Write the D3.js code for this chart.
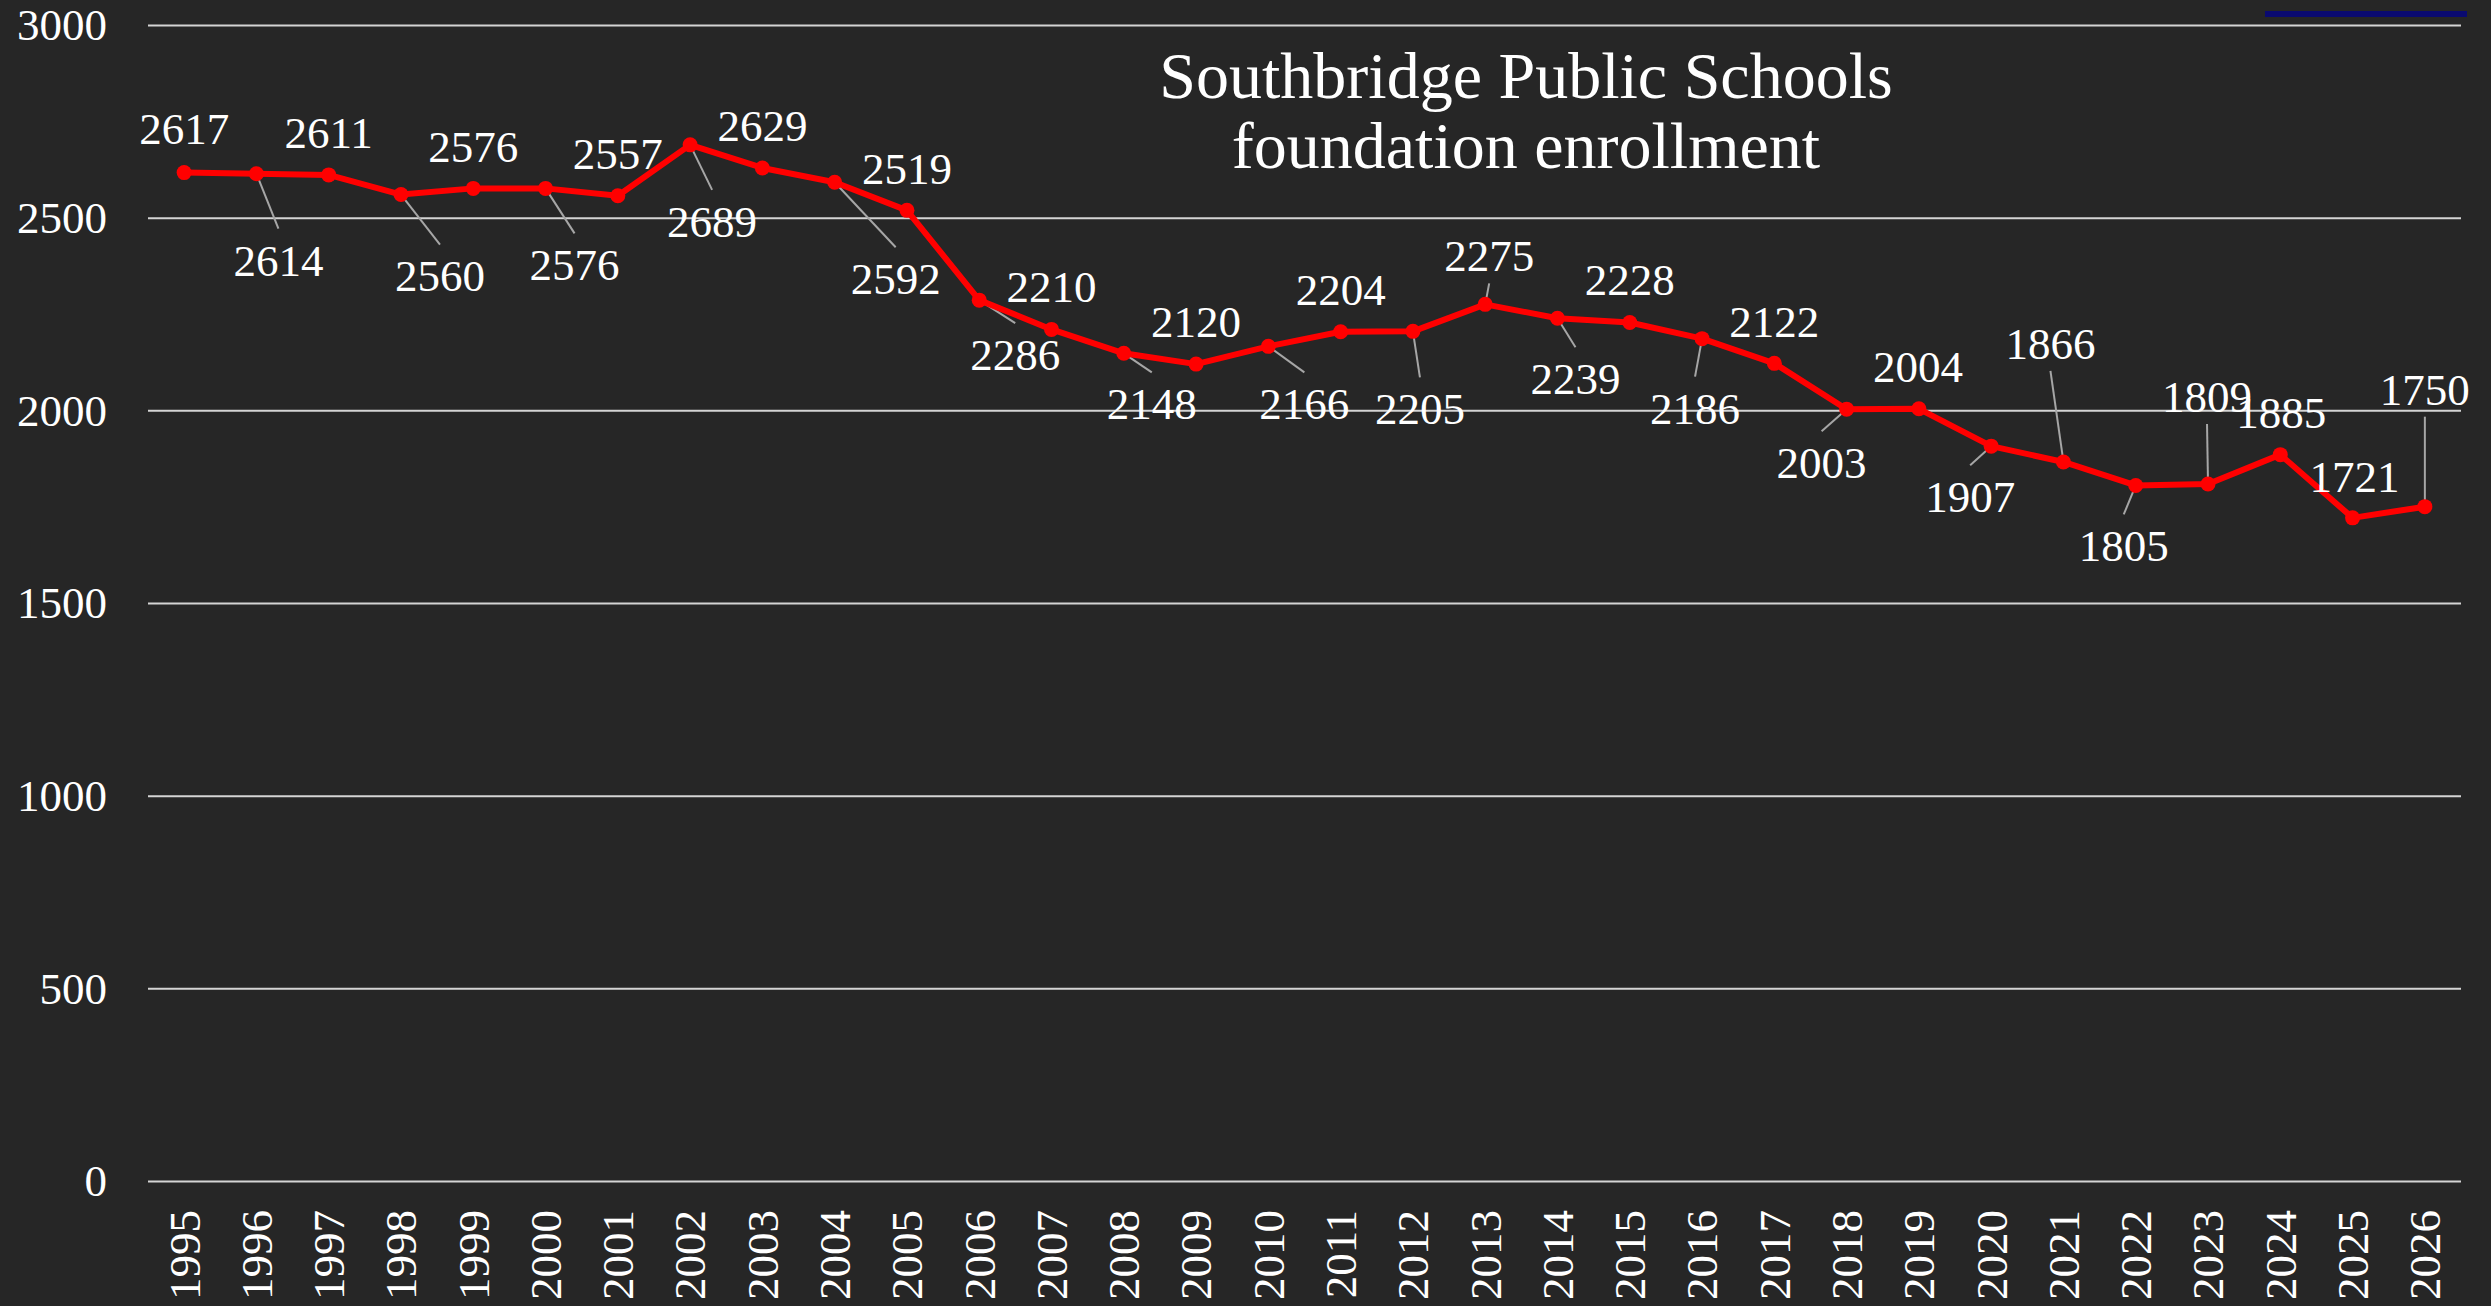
<!DOCTYPE html>
<meta charset="utf-8">
<script src="https://d3js.org/d3.v7.min.js"></script>
<style>
  html, body { margin: 0; padding: 0; background: #262626; }
</style>
<div id="chart_area"></div>

<script>
    // chart data
    let years = ["1995", "1996", "1997", "1998", "1999", "2000", "2001", "2002", "2003", "2004", "2005",
                 "2006", "2007", "2008", "2009", "2010", "2011", "2012", "2013", "2014", "2015", "2016",
                 "2017", "2018", "2019", "2020", "2021", "2022", "2023", "2024", "2025", "2026"];
    let enrollment = [2617, 2614, 2611, 2560, 2576, 2576, 2557, 2689, 2629, 2592, 2519,
                      2286, 2210, 2148, 2120, 2166, 2204, 2205, 2275, 2239, 2228, 2186,
                      2122, 2003, 2004, 1907, 1866, 1805, 1809, 1885, 1721, 1750];
    let yTicks = [0, 500, 1000, 1500, 2000, 2500, 3000];
    let titleLines = ["Southbridge Public Schools", "foundation enrollment"];

    // where each data label sits relative to its point (pixels)
    let labelDx = [0, 22, 0, 39, 0, 29, 0, 22, 0, 61, 0, 36, 0, 28, 0, 36,
                   0, 7, 4, 18, 0, -7, 0, -25, -1, -21, -13, -12, -1, 1, 2, 0];
    let labelDy = [-43, 87, -42, 82, -41, 77, -42, 77, -42, 97, -41, 55, -42, 51, -42, 58,
                   -42, 78, -48, 61, -42, 70, -41, 54, -42, 51, -118, 61, -87, -41, -41, -117];

    let width = 2491;
    let height = 1306;
    let plotLeft = 148, plotRight = 2461, plotTop = 25, plotBottom = 1181;
    let font = "'Liberation Serif', 'Times New Roman', serif";

    let svg = d3.select("#chart_area")
                .append("svg")
                    .attr("width", width)
                    .attr("height", height)
                    .style("display", "block")
                    .style("background", "#262626");

    let x = d3.scalePoint()
              .domain(years)
              .range([plotLeft, plotRight])
              .padding(0.5);

    let y = d3.scaleLinear()
              .domain([0, 3000])
              .range([plotBottom, plotTop]);

    // y axis + gridlines
    let yAxis = svg.append("g")
                   .attr("transform", "translate(" + plotLeft + ",0)")
                   .call(d3.axisLeft(y)
                           .tickValues(yTicks)
                           .tickFormat(d3.format("d"))
                           .tickSize(-(plotRight - plotLeft))
                           .tickPadding(41));
    yAxis.select(".domain").remove();
    yAxis.selectAll("line")
         .attr("stroke", "#d4d4d4")
         .attr("stroke-width", 2);
    yAxis.selectAll("text")
         .attr("fill", "#ffffff")
         .attr("dy", "0.33em")
         .style("font-family", font)
         .style("font-size", "45px");

    // x axis, rotated year labels
    let xAxis = svg.append("g")
                   .attr("transform", "translate(0," + plotBottom + ")")
                   .call(d3.axisBottom(x).tickSize(0));
    xAxis.select(".domain").remove();
    xAxis.selectAll("text")
         .attr("transform", "rotate(-90)")
         .attr("x", -29)
         .attr("y", 0)
         .attr("dy", "0.33em")
         .attr("text-anchor", "end")
         .attr("fill", "#ffffff")
         .style("font-family", font)
         .style("font-size", "45px");

    // the legend swatch cut off at the top right
    svg.append("rect")
        .attr("x", 2265)
        .attr("y", 11)
        .attr("width", 202)
        .attr("height", 6)
        .attr("fill", "#0a0a70");

    // title
    svg.append("text")
        .attr("x", 1526)
        .attr("y", 98)
        .attr("text-anchor", "middle")
        .attr("fill", "#ffffff")
        .style("font-family", font)
        .style("font-size", "66px")
        .selectAll("tspan")
        .data(titleLines)
        .enter()
        .append("tspan")
            .attr("x", 1526)
            .attr("dy", (d, i) => i === 0 ? 0 : 70)
            .text(d => d);

    let points = years.map((yr, i) => ({
        year: yr,
        value: enrollment[i],
        px: x(yr),
        py: y(enrollment[i]),
        lx: x(yr) + labelDx[i],
        ly: y(enrollment[i]) + labelDy[i]
    }));

    // leader lines for labels that sit away from their point
    svg.selectAll("leaders")
        .data(points.filter(d => Math.hypot(d.lx - d.px, d.ly - d.py) > 45))
        .enter()
        .append("line")
            .attr("x1", d => d.px)
            .attr("y1", d => d.py)
            .attr("x2", d => d.lx)
            .attr("y2", d => d.ly > d.py ? d.ly - 32 : d.ly + 27)
            .attr("stroke", "#a6a6a6")
            .attr("stroke-width", 2);

    // series line
    let line = d3.line()
                 .x(d => d.px)
                 .y(d => d.py);

    svg.append("path")
        .datum(points)
        .attr("d", line)
        .attr("fill", "none")
        .attr("stroke", "#ff0000")
        .attr("stroke-width", 6)
        .attr("stroke-linejoin", "round");

    svg.selectAll("markers")
        .data(points)
        .enter()
        .append("circle")
            .attr("cx", d => d.px)
            .attr("cy", d => d.py)
            .attr("r", 7.5)
            .attr("fill", "#ff0000");

    // data labels
    svg.selectAll("labels")
        .data(points)
        .enter()
        .append("text")
            .attr("x", d => d.lx)
            .attr("y", d => d.ly)
            .attr("dy", "0.33em")
            .attr("text-anchor", "middle")
            .attr("fill", "#ffffff")
            .style("font-family", font)
            .style("font-size", "45px")
            .text(d => d.value);
</script>
